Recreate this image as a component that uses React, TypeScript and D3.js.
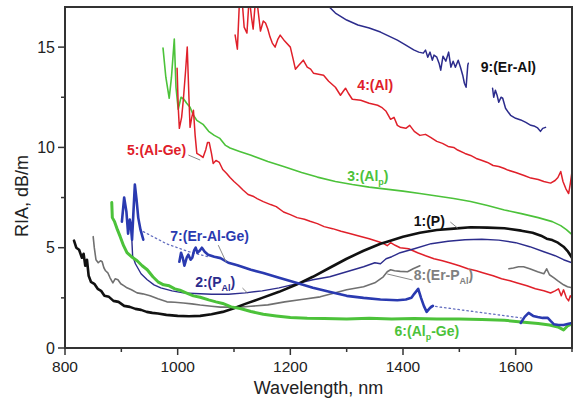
import React from "react";
import * as d3 from "d3";

type P = [number, number];

// ---------- axis ticks ----------
const xMajor = [800, 1000, 1200, 1400, 1600];
const xMinor = [900, 1100, 1300, 1500, 1700];
const yMajor = [0, 5, 10, 15];
const yMinor = [2.5, 7.5, 12.5];

// ---------- series (wavelength nm, RIA dB/m) ----------
const s1P: P[] = [[816,5.35],[820,5.0],[825,4.9],[830,4.5],[833,4.7],[836,4.1],[839,4.4],[842,3.6],[846,3.3],[852,3.2],[858,2.95],[864,2.85],[870,2.6],[878,2.55],[886,2.35],[895,2.3],[905,2.1],[915,2.05],[925,1.95],[935,1.9],[945,1.8],[955,1.75],[965,1.72],[980,1.65],[1000,1.6],[1020,1.58],[1040,1.6],[1060,1.68],[1080,1.8],[1100,1.98],[1120,2.2],[1150,2.5],[1180,2.8],[1210,3.15],[1240,3.55],[1270,4.0],[1300,4.45],[1330,4.85],[1360,5.2],[1372,5.3],[1400,5.55],[1430,5.75],[1460,5.88],[1490,5.95],[1520,6.02],[1550,6.0],[1580,5.97],[1610,5.85],[1630,5.75],[1645,5.6],[1655,5.45],[1665,5.38],[1675,5.25],[1685,5.05],[1693,4.8],[1700,4.5]];

const s2PAl: P[] = [[918,5.8],[920,4.6],[925,4.2],[935,3.7],[946,3.4],[958,3.15],[970,3.0],[990,2.85],[1010,2.75],[1030,2.72],[1060,2.68],[1090,2.68],[1120,2.75],[1150,2.85],[1180,3.0],[1210,3.2],[1240,3.4],[1270,3.55],[1300,3.8],[1330,4.05],[1350,4.25],[1360,4.2],[1370,4.45],[1380,4.55],[1395,4.75],[1420,4.95],[1450,5.2],[1480,5.32],[1510,5.4],[1540,5.42],[1570,5.38],[1600,5.25],[1625,5.05],[1650,4.8],[1670,4.6],[1685,4.4],[1700,4.25]];

const s3AlP: P[] = [[974,14.95],[979,13.5],[985,12.45],[989,13.5],[994,15.4],[997,13.0],[1001,11.9],[1006,12.5],[1011,12.4],[1016,12.2],[1022,12.0],[1028,11.6],[1034,11.35],[1045,11.15],[1055,10.8],[1065,10.6],[1075,10.45],[1085,10.1],[1093,9.97],[1110,9.8],[1129,9.62],[1160,9.3],[1188,9.05],[1220,8.75],[1248,8.52],[1280,8.3],[1310,8.15],[1340,8.02],[1370,7.92],[1400,7.82],[1430,7.7],[1460,7.58],[1490,7.45],[1520,7.3],[1550,7.1],[1580,6.88],[1610,6.7],[1640,6.5],[1665,6.3],[1680,6.1],[1690,5.9],[1700,5.65]];

const s4Al: P[] = [[1102,15.6],[1106,14.9],[1110,17.5],[1114,17.5],[1118,16.0],[1123,15.7],[1127,17.5],[1131,16.5],[1134,15.9],[1138,17.3],[1142,17.0],[1147,15.8],[1152,16.3],[1156,16.2],[1160,15.9],[1164,15.5],[1168,15.2],[1173,15.0],[1178,15.4],[1182,15.6],[1190,15.3],[1200,15.0],[1205,14.4],[1209,13.9],[1215,14.1],[1223,14.35],[1230,14.0],[1236,13.9],[1241,13.7],[1250,13.65],[1259,13.6],[1268,13.3],[1280,13.0],[1289,12.6],[1294,12.8],[1298,12.95],[1303,12.7],[1310,12.4],[1325,12.35],[1340,12.2],[1355,12.1],[1362,12.0],[1370,11.8],[1378,11.4],[1384,11.5],[1390,11.1],[1396,11.0],[1405,10.95],[1412,11.1],[1420,10.8],[1430,10.6],[1440,10.65],[1449,10.5],[1460,10.3],[1470,10.2],[1480,10.05],[1490,10.0],[1497,9.87],[1510,9.7],[1520,9.6],[1530,9.45],[1538,9.37],[1550,9.25],[1560,9.1],[1570,9.05],[1580,8.95],[1586,8.87],[1600,8.75],[1615,8.6],[1627,8.47],[1640,8.4],[1650,8.3],[1662,8.22],[1670,8.35],[1675,8.5],[1680,8.8],[1684,8.3],[1689,7.95],[1694,7.7],[1697,8.2],[1700,8.8]];

const s5AlGe: P[] = [[999,13.95],[1001,12.0],[1003,10.95],[1007,11.5],[1010,12.35],[1014,13.8],[1017,15.0],[1020,12.5],[1022,11.0],[1025,11.5],[1028,11.85],[1031,10.6],[1034,9.7],[1040,9.6],[1045,9.5],[1050,9.9],[1053,10.25],[1056,10.25],[1060,9.7],[1063,9.2],[1068,9.35],[1074,9.25],[1080,8.9],[1087,8.7],[1093,8.5],[1100,8.3],[1108,8.1],[1116,7.88],[1125,7.65],[1135,7.55],[1141,7.45],[1152,7.3],[1165,7.15],[1175,7.05],[1188,6.78],[1200,6.65],[1212,6.5],[1225,6.42],[1235,6.32],[1248,6.2],[1260,6.05],[1275,5.95],[1290,5.82],[1307,5.7],[1320,5.6],[1340,5.45],[1365,5.22],[1372,5.1],[1378,5.25],[1386,5.12],[1395,5.0],[1410,4.95],[1426,4.75],[1440,4.6],[1455,4.45],[1470,4.35],[1484,4.24],[1500,4.1],[1515,3.95],[1530,3.85],[1543,3.74],[1560,3.6],[1575,3.45],[1590,3.35],[1603,3.24],[1620,3.1],[1635,2.95],[1650,2.85],[1662,2.74],[1670,2.85],[1676,2.95],[1681,2.6],[1685,2.9],[1690,2.5],[1694,2.35],[1697,2.6],[1700,2.5]];

const s6AlPGe: P[] = [[883,7.25],[884,6.5],[888,6.3],[893,5.9],[898,5.55],[904,5.1],[910,4.75],[918,4.55],[928,4.35],[937,4.1],[946,3.9],[956,3.55],[965,3.3],[975,3.15],[985,3.1],[995,2.95],[1004,2.88],[1015,2.75],[1028,2.6],[1040,2.53],[1055,2.4],[1068,2.3],[1080,2.22],[1095,2.05],[1111,1.97],[1130,1.82],[1152,1.68],[1175,1.6],[1200,1.52],[1230,1.48],[1260,1.47],[1300,1.45],[1340,1.48],[1380,1.45],[1420,1.47],[1460,1.44],[1500,1.45],[1540,1.42],[1580,1.38],[1610,1.3],[1640,1.22],[1660,1.15],[1675,1.05],[1685,0.9],[1692,1.1],[1700,1.2]];

const s7ErAlGeA: P[] = [[901,6.3],[905,7.5],[909,6.8],[912,5.7],[915,6.4],[917,6.1],[919,5.4],[921,6.5],[924,8.15],[927,7.4],[930,6.5],[934,5.9],[939,5.4]];
const s7ErAlGeB: P[] = [[1003,4.3],[1006,4.75],[1009,4.5],[1012,4.1],[1016,4.5],[1019,4.65],[1023,4.4],[1026,4.5],[1029,4.85],[1032,5.0],[1035,4.75],[1039,4.85],[1043,5.0],[1048,4.8],[1054,4.65],[1065,4.55],[1076,4.48],[1090,4.25],[1106,4.12],[1130,3.9],[1152,3.74],[1180,3.5],[1212,3.24],[1240,3.0],[1271,2.79],[1300,2.6],[1330,2.5],[1360,2.42],[1390,2.38],[1405,2.42],[1415,2.5],[1420,2.7],[1427,2.95],[1432,2.5],[1437,2.1],[1442,1.8],[1448,2.0],[1453,2.1]];
const s7ErAlGeC: P[] = [[1609,1.25],[1616,1.55],[1623,1.75],[1631,1.6],[1639,1.55],[1648,1.5],[1657,1.5],[1662,1.35],[1668,1.18],[1676,1.15],[1685,1.15],[1692,1.2],[1700,1.25]];
const s7FitA: P[] = [[939,5.8],[980,5.2],[1020,4.8],[1054,4.55]];
const s7FitB: P[] = [[1450,2.1],[1530,1.8],[1610,1.5]];

const s8ErPAlA: P[] = [[850,5.55],[852,5.0],[855,4.4],[859,4.25],[863,4.35],[866,4.3],[869,4.0],[872,3.85],[876,3.75],[880,3.5],[885,3.25],[889,3.45],[894,3.4],[899,3.2],[905,3.1],[910,3.0],[918,2.9],[928,2.75],[938,2.7],[951,2.6],[965,2.45],[981,2.3],[995,2.28],[1010,2.24],[1025,2.2],[1040,2.14],[1060,2.08],[1076,2.04],[1095,2.04],[1110,2.04],[1130,2.08],[1160,2.15],[1190,2.3],[1220,2.42],[1253,2.55],[1280,2.75],[1300,2.9],[1330,3.05],[1350,3.25],[1365,3.55],[1372,3.8],[1378,3.9],[1385,3.85],[1395,3.82],[1408,3.8],[1418,3.95],[1426,4.05],[1430,4.1]];
const s8ErPAlB: P[] = [[1588,3.95],[1596,3.99],[1605,4.05],[1614,4.05],[1625,3.95],[1639,3.8],[1650,3.7],[1655,3.95],[1660,3.65],[1668,3.5],[1675,3.35],[1685,3.15],[1692,3.05],[1700,3.0]];

const s9ErAlA: P[] = [[1262,17.2],[1280,16.7],[1300,16.35],[1320,16.1],[1340,15.95],[1360,15.75],[1375,15.55],[1390,15.35],[1405,15.1],[1419,14.86],[1428,14.75],[1436,14.7],[1440,14.85],[1444,14.5],[1448,14.75],[1452,14.35],[1455,14.6],[1460,14.5],[1464,14.2],[1467,13.85],[1471,14.55],[1476,14.3],[1481,14.75],[1485,14.0],[1489,14.3],[1493,14.0],[1498,14.35],[1502,14.0],[1506,13.6],[1509,13.2],[1512,13.0],[1515,14.1],[1516,14.2]];
const s9ErAlB: P[] = [[1559,12.95],[1561,12.5],[1564,12.85],[1567,12.6],[1570,12.25],[1574,12.5],[1577,12.45],[1582,11.95],[1587,11.75],[1591,11.6],[1600,11.45],[1609,11.37],[1618,11.25],[1627,11.1],[1634,11.05],[1639,10.97],[1644,10.8],[1648,10.95],[1653,11.0]];

// ---------- labels (text, subscript, rest, position in data coords) ----------
type Lab = { pre: string; sub?: string; post?: string; x: number; y: number; color: string };
const labels: Lab[] = [
  { pre: "9:(Er-Al)", x: 1538, y: 13.76, color: "#111111" },
  { pre: "4:(Al)", x: 1319, y: 12.86, color: "#e0202a" },
  { pre: "5:(Al-Ge)", x: 910, y: 9.62, color: "#e0202a" },
  { pre: "3:(Al", sub: "p", post: ")", x: 1301, y: 8.33, color: "#4cc23a" },
  { pre: "1:(P)", x: 1419, y: 6.08, color: "#111111" },
  { pre: "7:(Er-Al-Ge)", x: 987, y: 5.33, color: "#2a3ab0" },
  { pre: "2:(P", sub: "Al", post: ")", x: 1031, y: 3.04, color: "#2c2c8c" },
  { pre: "8:(Er-P", sub: "Al", post: ")", x: 1419, y: 3.39, color: "#808080" },
  { pre: "6:(Al", sub: "p", post: "-Ge)", x: 1385, y: 0.62, color: "#4cc23a" },
];
const leaders: [P, P][] = [
  [[1019, 9.62], [1040, 9.37]],
  [[1072, 5.13], [1086, 4.29]],
  [[1115, 2.99], [1124, 2.74]],
  [[1484, 6.28], [1497, 5.98]],
  [[1417, 3.39], [1372, 3.69]],
];

const W = 574, H = 401;
const L = 65, R = 572, T = 7, B = 348;

export default function App() {
  const x = d3.scaleLinear().domain([800, 1700]).range([L, R]);
  const y = d3.scaleLinear().domain([0, 17]).range([B, T]);
  const line = d3.line<P>().x(d => x(d[0])).y(d => y(d[1])).curve(d3.curveLinear);
  const font = "'Liberation Sans', Arial, sans-serif";

  const series: { d: P[]; c: string; w: number; dash?: string }[] = [
    { d: s4Al, c: "#e0202a", w: 1.5 },
    { d: s9ErAlA, c: "#2c2c8c", w: 1.5 },
    { d: s9ErAlB, c: "#2c2c8c", w: 1.5 },
    { d: s3AlP, c: "#4cc23a", w: 1.6 },
    { d: s5AlGe, c: "#e0202a", w: 1.5 },
    { d: s8ErPAlA, c: "#707070", w: 1.6 },
    { d: s8ErPAlB, c: "#707070", w: 1.6 },
    { d: s2PAl, c: "#2c2c8c", w: 1.4 },
    { d: s7FitA, c: "#6670c0", w: 1.3, dash: "1.5,3" },
    { d: s7FitB, c: "#6670c0", w: 1.3, dash: "1.5,3" },
    { d: s1P, c: "#111111", w: 2.6 },
    { d: s6AlPGe, c: "#4cc23a", w: 3 },
    { d: s7ErAlGeA, c: "#2a3ab0", w: 2.6 },
    { d: s7ErAlGeB, c: "#2a3ab0", w: 2.6 },
    { d: s7ErAlGeC, c: "#2a3ab0", w: 2.6 },
  ];

  return (
    <svg width={W} height={H} style={{ position: "absolute", left: 0, top: 0, background: "#fff" }} fontFamily={font}>
      <defs>
        <clipPath id="plot">
          <rect x={L} y={T} width={R - L} height={B - T} />
        </clipPath>
      </defs>
      <rect x={0} y={0} width={W} height={H} fill="#fff" />
      <g clipPath="url(#plot)">
        {series.map((s, i) => (
          <path key={i} d={line(s.d) || ""} fill="none" stroke={s.c} strokeWidth={s.w}
            strokeDasharray={s.dash} strokeLinejoin="round" strokeLinecap="round" />
        ))}
        {leaders.map((l, i) => (
          <line key={i} x1={x(l[0][0])} y1={y(l[0][1])} x2={x(l[1][0])} y2={y(l[1][1])} stroke="#888" strokeWidth={1} />
        ))}
      </g>
      {labels.map((lb, i) => (
        <text key={i} x={x(lb.x)} y={y(lb.y)} fill={lb.color} fontSize={14} fontWeight="bold">
          {lb.pre}
          {lb.sub ? <tspan fontSize={9} dy={4}>{lb.sub}</tspan> : null}
          {lb.sub ? <tspan dy={-4}>{lb.post}</tspan> : null}
        </text>
      ))}
      {/* frame */}
      <rect x={L} y={T} width={R - L} height={B - T} fill="none" stroke="#333" strokeWidth={2} />
      {/* x ticks */}
      {xMajor.map(v => (
        <g key={"xM" + v}>
          <line x1={x(v)} x2={x(v)} y1={B} y2={B + 7} stroke="#333" strokeWidth={1.5} />
          <text x={x(v)} y={B + 24} textAnchor="middle" fontSize={15.5} fill="#222">{v}</text>
        </g>
      ))}
      {xMinor.map(v => (
        <line key={"xm" + v} x1={x(v)} x2={x(v)} y1={B} y2={B + 4} stroke="#333" strokeWidth={1.5} />
      ))}
      {yMajor.map(v => (
        <g key={"yM" + v}>
          <line x1={L - 7} x2={L} y1={y(v)} y2={y(v)} stroke="#333" strokeWidth={1.5} />
          <text x={L - 10} y={y(v)} dy="0.36em" textAnchor="end" fontSize={16} fill="#222">{v}</text>
        </g>
      ))}
      {yMinor.map(v => (
        <line key={"ym" + v} x1={L - 4} x2={L} y1={y(v)} y2={y(v)} stroke="#333" strokeWidth={1.5} />
      ))}
      <text x={(L + R) / 2} y={394} textAnchor="middle" fontSize={18} fill="#222">Wavelength, nm</text>
      <text transform={`translate(28,196) rotate(-90)`} textAnchor="middle" fontSize={18} fill="#222">RIA, dB/m</text>
    </svg>
  );
}
